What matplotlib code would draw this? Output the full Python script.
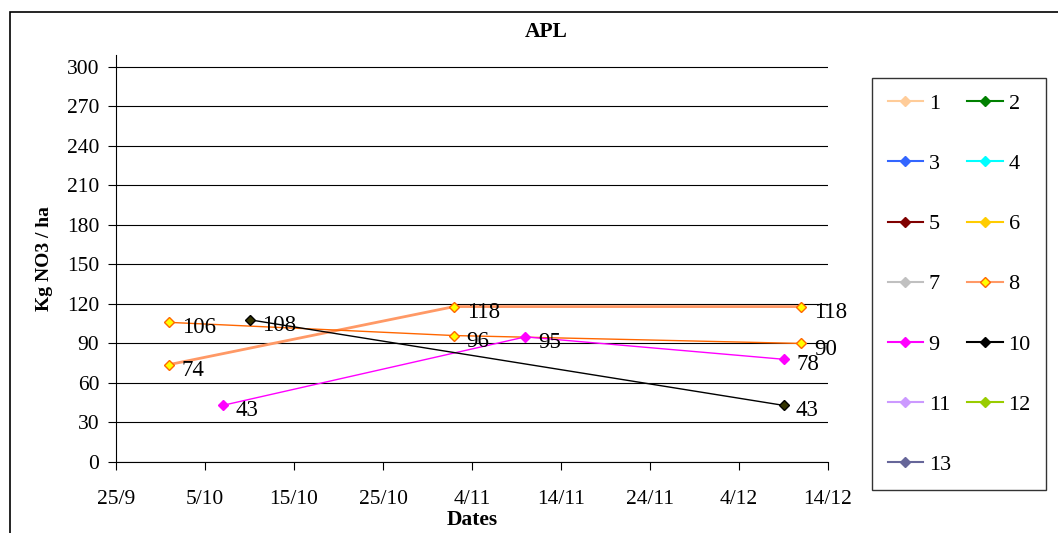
import datetime as dt
import matplotlib
matplotlib.use("Agg")
import matplotlib.pyplot as plt
import matplotlib.dates as mdates
from matplotlib.lines import Line2D
from matplotlib.patches import Rectangle

plt.rcParams['font.family'] = ['Liberation Serif', 'DejaVu Serif']

# data (year is arbitrary)
def d(day, month):
    return dt.date(2004, month, day)

s8_dates = [d(1, 10), d(2, 11), d(11, 12)]
s8_vals = [74, 118, 118]
s8b_dates = [d(1, 10), d(2, 11), d(11, 12)]
s8b_vals = [106, 96, 90]
s9_dates = [d(7, 10), d(10, 11), d(9, 12)]
s9_vals = [43, 95, 78]
s10_dates = [d(10, 10), d(9, 12)]
s10_vals = [108, 43]

legend_names = [str(i) for i in range(1, 14)]
legend_colors = ["#FFCC99", "#008000", "#3366FF", "#00FFFF", "#800000", "#FFCC00",
                 "#C0C0C0", "#FF9966", "#FF00FF", "#000000", "#CC99FF", "#99CC00", "#666699"]

x_ticks = [d(25, 9) + dt.timedelta(days=10 * i) for i in range(9)]

W, H = 1058, 533
fig = plt.figure(figsize=(W / 100, H / 100), dpi=100)
fig.patches.append(Rectangle((10 / W, -0.1), 1.2, 1.1 - 12 / H, transform=fig.transFigure,
                             fill=False, edgecolor="black", linewidth=1.2))

ax = fig.add_axes([116 / W, 1 - 462 / H, (828 - 116) / W, (462 - 55) / H])

def series(dates, vals, color, mfc, mec, lw=1.0):
    ax.plot(dates, vals, color=color, linewidth=lw, marker="D", markersize=5,
            markerfacecolor=mfc, markeredgecolor=mec, markeredgewidth=1.0, zorder=3)
    for x, y in zip(dates, vals):
        ax.annotate(str(y), (mdates.date2num(x), y), xytext=(9, -4), textcoords="offset points",
                    fontsize=16.5, va="center", ha="left", zorder=4)

series(s8_dates, s8_vals, "#FF9966", "#FFFF00", "#FF6600", lw=2.0)
series(s8b_dates, s8b_vals, "#FF6600", "#FFFF00", "#FF6600")
series(s9_dates, s9_vals, "#FF00FF", "#FF00FF", "#FF00FF")
series(s10_dates, s10_vals, "#000000", "#333300", "#000000")

ax.set_xlim(mdates.date2num(x_ticks[0]), mdates.date2num(x_ticks[-1]))
ax.set_ylim(0, 309)
ax.set_xticks(x_ticks)
ax.xaxis.set_major_formatter(mdates.DateFormatter("%-d/%-m"))
ax.set_yticks(range(0, 301, 30))
ax.grid(axis="y", color="black", linewidth=0.8)
ax.set_axisbelow(True)
for sp in ["top", "right"]:
    ax.spines[sp].set_visible(False)
ax.tick_params(labelsize=15.5, direction="out", length=6, width=0.8, pad=6)
ax.tick_params(axis="x", pad=14)

ax.set_xlabel("Dates", fontsize=15.5, fontweight="bold", labelpad=1)
ax.set_ylabel("Kg NO3 / ha", fontsize=14, fontweight="bold", labelpad=10)
fig.text(546 / W, 1 - 32 / H, "APL", fontsize=15.5, fontweight="bold", ha="center", va="center")

handles = []
for name, c in zip(legend_names, legend_colors):
    if name == "8":
        h = Line2D([], [], color=c, marker="D", markersize=5, markerfacecolor="#FFFF00",
                   markeredgecolor="#FF6600", linewidth=1.5)
    else:
        h = Line2D([], [], color=c, marker="D", markersize=5, linewidth=1.5)
    handles.append(h)
# reorder so ncol=2 fills row by row
order = list(range(0, 13, 2)) + list(range(1, 13, 2))
leg = fig.legend([handles[i] for i in order], [legend_names[i] for i in order], ncol=2,
                 loc="upper left", bbox_to_anchor=(872 / W, 1 - 78 / H),
                 frameon=True, fancybox=False, edgecolor="black", fontsize=16,
                 handlelength=1.6, labelspacing=1.78, columnspacing=0.75,
                 borderpad=0.7, handletextpad=0.25, borderaxespad=0)
leg.get_frame().set_linewidth(1.0)

fig.savefig("out.png", dpi=100)
